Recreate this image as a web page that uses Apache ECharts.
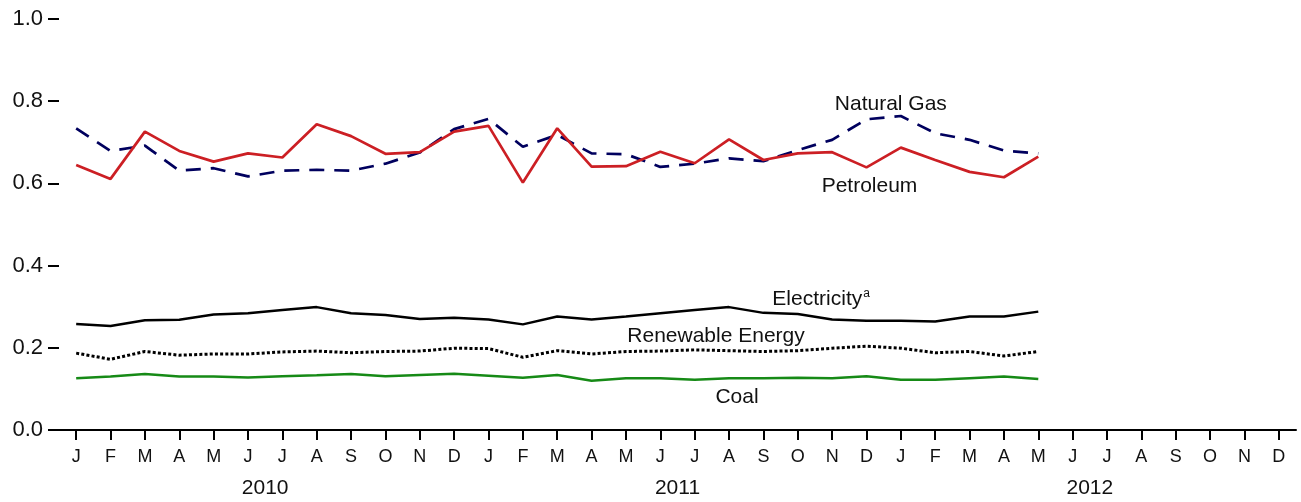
<!DOCTYPE html>
<html>
<head>
<meta charset="utf-8">
<script src="https://cdn.jsdelivr.net/npm/echarts@6/dist/echarts.min.js"></script>
<style>
html,body{margin:0;padding:0;background:#fff;}
#chart{width:1301px;height:502px;}
</style>
</head>
<body>
<div id="chart"></div>
<script>
// ---- data ----
const monthLetters = ['J','F','M','A','M','J','J','A','S','O','N','D'];
const years = ['2010','2011','2012'];
const yTicks = [0, 0.2, 0.4, 0.6, 0.8, 1.0];

const petroleum = [0.645,0.611,0.726,0.679,0.653,0.673,0.663,0.744,0.715,0.672,0.676,0.726,
                   0.740,0.602,0.734,0.641,0.642,0.677,0.649,0.707,0.657,0.673,0.676,0.639,
                   0.687,0.657,0.628,0.615,0.665];
const naturalGas = [0.734,0.679,0.692,0.631,0.637,0.617,0.631,0.633,0.631,0.648,0.675,0.732,
                    0.757,0.689,0.718,0.673,0.671,0.640,0.648,0.661,0.654,0.681,0.706,0.756,
                    0.764,0.722,0.706,0.680,0.673];
const electricity = [0.258,0.253,0.267,0.268,0.281,0.284,0.292,0.299,0.284,0.280,0.270,0.273,
                     0.269,0.257,0.276,0.269,0.276,0.284,0.292,0.299,0.285,0.282,0.269,0.266,
                     0.266,0.264,0.276,0.276,0.288];
const renewable = [0.187,0.172,0.191,0.182,0.185,0.185,0.190,0.192,0.188,0.191,0.192,0.199,
                   0.198,0.177,0.193,0.185,0.191,0.192,0.195,0.193,0.191,0.193,0.199,0.204,
                   0.199,0.188,0.191,0.180,0.191];
const coal = [0.126,0.130,0.136,0.130,0.130,0.128,0.131,0.133,0.136,0.131,0.134,0.137,
              0.132,0.127,0.134,0.120,0.126,0.126,0.122,0.126,0.126,0.127,0.126,0.131,
              0.122,0.122,0.126,0.130,0.124];

// ---- build ----
const categories = [];
years.forEach(y => monthLetters.forEach((m, i) => categories.push(m + '|' + y + '|' + i)));

const FONT = '"Liberation Sans", Arial, Helvetica, sans-serif';

function labelPoint(idx, val, text, offset, rich) {
  return {
    coord: [idx, val],
    symbol: 'rect',
    symbolSize: 1,
    itemStyle: {color: 'rgba(0,0,0,0)'},
    label: {
      show: true, position: 'inside', formatter: text, offset: offset,
      color: '#111', fontSize: 21, fontFamily: FONT, rich: rich
    }
  };
}

function lineSeries(name, data, color, width, type, mp) {
  return {
    name: name, type: 'line', data: data, xAxisIndex: 0,
    symbol: 'none', smooth: false,
    lineStyle: {color: color, width: width, type: type, cap: 'butt'},
    z: 3,
    markPoint: {silent: true, animation: false, data: mp}
  };
}

const chart = echarts.init(document.getElementById('chart'), null, {renderer: 'canvas'});
chart.setOption({
  animation: false,
  backgroundColor: '#fff',
  grid: {left: 59, right: 5, top: 19, bottom: 72, containLabel: false},
  xAxis: [{
    type: 'category', data: categories, boundaryGap: true,
    axisLine: {show: true, lineStyle: {color: '#000', width: 2}},
    axisTick: {show: true, alignWithLabel: true, length: 10, lineStyle: {color: '#000', width: 2}},
    axisLabel: {interval: 0, margin: 18, fontSize: 18, color: '#111', fontFamily: FONT,
                formatter: v => v.split('|')[0]},
    splitLine: {show: false}
  }, {
    type: 'category', data: years, boundaryGap: true, position: 'bottom',
    axisLine: {show: false}, axisTick: {show: false},
    axisLabel: {interval: 0, margin: 48, fontSize: 21, color: '#111', fontFamily: FONT},
    splitLine: {show: false}
  }],
  yAxis: {
    type: 'value', min: yTicks[0], max: yTicks[yTicks.length - 1], interval: 0.2,
    axisLine: {show: false},
    axisTick: {show: true, length: 11, lineStyle: {color: '#000', width: 2}},
    axisLabel: {margin: 16, fontSize: 22, color: '#111', fontFamily: FONT,
                formatter: v => v.toFixed(1)},
    splitLine: {show: false}
  },
  series: [
    lineSeries('Coal', coal, '#168a16', 2.5, 'solid',
      [labelPoint(19, 0.080, 'Coal', [8, 0])]),
    lineSeries('Renewable Energy', renewable, '#000', 3, [3, 2.2],
      [labelPoint(19, 0.2275, 'Renewable Energy', [-13, 0])]),
    lineSeries('Electricity', electricity, '#000', 2.5, 'solid',
      [labelPoint(22, 0.319, '{a|Electricity}{s|a}', [-11, 0],
        {a: {fontSize: 21, fontFamily: FONT, color: '#111', lineHeight: 22, verticalAlign: 'bottom'},
         s: {fontSize: 12, fontFamily: FONT, color: '#111', lineHeight: 22, verticalAlign: 'top', padding: [0,0,0,1]}})]),
    lineSeries('Natural Gas', naturalGas, '#00005e', 2.7, [15, 10],
      [labelPoint(24, 0.793, 'Natural Gas', [-10, 0])]),
    lineSeries('Petroleum', petroleum, '#cc1f24', 2.7, 'solid',
      [labelPoint(23, 0.594, 'Petroleum', [3, 0])])
  ]
});
</script>
</body>
</html>
